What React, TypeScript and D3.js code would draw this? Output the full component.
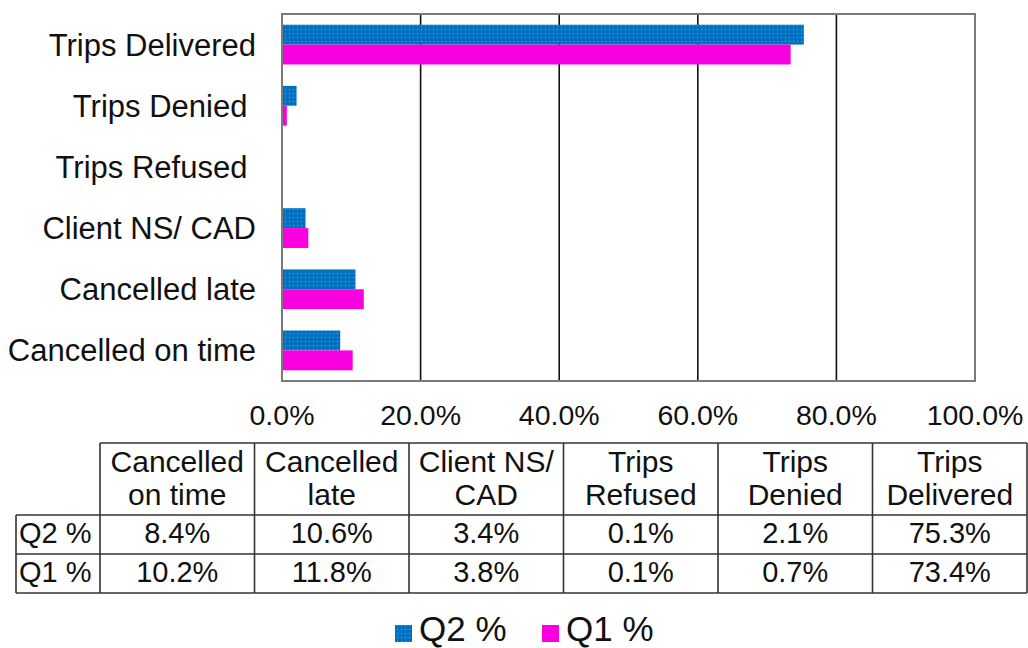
import React from "react";
import * as d3 from "d3";

// ---- data ----
const categories = [
  "Cancelled on time",
  "Cancelled late",
  "Client NS/ CAD",
  "Trips Refused ",
  "Trips Denied ",
  "Trips Delivered",
];
const tableHeaders = [
  ["Cancelled", "on time"],
  ["Cancelled", "late"],
  ["Client NS/", "CAD"],
  ["Trips", "Refused"],
  ["Trips", "Denied"],
  ["Trips", "Delivered"],
];
const seriesNames = ["Q2 %", "Q1 %"];
const q2Values = [0.084, 0.106, 0.034, 0.001, 0.021, 0.753];
const q1Values = [0.102, 0.118, 0.038, 0.001, 0.007, 0.734];
const xTicks = [0, 0.2, 0.4, 0.6, 0.8, 1.0];

const BLUE = "#0070c0";
const MAGENTA = "#f800e0";
const FONT = "'Liberation Sans', Arial, sans-serif";

export default function App() {
  const W = 1028;
  const H = 648;
  const plot = { left: 282, right: 975, top: 14, bottom: 381 };

  const x = d3.scaleLinear().domain([0, 1]).range([plot.left, plot.right]);
  const y = d3
    .scaleBand<string>()
    .domain([...categories].reverse())
    .range([plot.top, plot.bottom])
    .paddingInner(0.35)
    .paddingOuter(0.175);
  const inner = d3
    .scaleBand<string>()
    .domain(seriesNames)
    .range([0, y.bandwidth()]);

  const values = [q2Values, q1Values];
  const colors = ["url(#dots)", MAGENTA];

  // table geometry
  const colX = d3
    .scaleLinear()
    .domain([0, categories.length])
    .range([100, 1027]);
  const rowLabelLeft = 16;
  const tTop = 443;
  const tHeadBottom = 515;
  const tRowMid = 554;
  const tBottom = 593;
  const fmt = d3.format(".1%");

  const line = "#333";

  return (
    <svg
      width={W}
      height={H}
      style={{ position: "absolute", left: 0, top: 0, background: "#fff" }}
      fontFamily={FONT}
    >
      <defs>
        <pattern id="dots" width="4" height="4" patternUnits="userSpaceOnUse">
          <rect width="4" height="4" fill={BLUE} />
          <rect x="1" y="1" width="1" height="1" fill="#5aa8e6" />
        </pattern>
      </defs>
      <rect width={W} height={H} fill="#fff" />

      {/* gridlines */}
      {xTicks.slice(1, -1).map((t) => (
        <line
          key={t}
          x1={x(t)}
          x2={x(t)}
          y1={plot.top}
          y2={plot.bottom}
          stroke="#111"
          strokeWidth={1.6}
        />
      ))}

      {/* bars */}
      {seriesNames.map((s, si) =>
        categories.map((c, ci) => (
          <rect
            key={s + c}
            x={x(0)}
            y={(y(c) as number) + (inner(s) as number)}
            width={x(values[si][ci]) - x(0)}
            height={inner.bandwidth()}
            fill={colors[si]}
          />
        ))
      )}

      {/* plot frame */}
      <rect
        x={plot.left}
        y={plot.top}
        width={plot.right - plot.left}
        height={plot.bottom - plot.top}
        fill="none"
        stroke="#7a7a7a"
        strokeWidth={2}
      />

      {/* category labels */}
      {categories.map((c) => (
        <text
          key={c}
          x={256}
          y={(y(c) as number) + y.bandwidth() / 2 + 11}
          textAnchor="end"
          fontSize={31}
          fill="#111"
          style={{ whiteSpace: "pre" }}
        >
          {c}
        </text>
      ))}

      {/* x tick labels */}
      {xTicks.map((t) => (
        <text
          key={t}
          x={x(t)}
          y={425}
          textAnchor="middle"
          fontSize={28.5}
          fill="#111"
        >
          {fmt(t)}
        </text>
      ))}

      {/* table lines */}
      <g stroke={line} strokeWidth={1.6}>
        <line x1={colX(0)} x2={colX(6)} y1={tTop} y2={tTop} />
        <line x1={rowLabelLeft} x2={colX(6)} y1={tHeadBottom} y2={tHeadBottom} />
        <line x1={rowLabelLeft} x2={colX(6)} y1={tRowMid} y2={tRowMid} />
        <line x1={rowLabelLeft} x2={colX(6)} y1={tBottom} y2={tBottom} />
        <line x1={rowLabelLeft} x2={rowLabelLeft} y1={tHeadBottom} y2={tBottom} />
        {d3.range(categories.length + 1).map((i) => (
          <line key={i} x1={colX(i)} x2={colX(i)} y1={tTop} y2={tBottom} />
        ))}
      </g>

      {/* table header */}
      {tableHeaders.map((h, i) => (
        <g key={i}>
          {h.map((ln, j) => (
            <text
              key={j}
              x={(colX(i) + colX(i + 1)) / 2}
              y={472 + j * 33}
              textAnchor="middle"
              fontSize={30}
              fill="#111"
            >
              {ln}
            </text>
          ))}
        </g>
      ))}

      {/* table rows */}
      {seriesNames.map((s, si) => (
        <g key={s}>
          <text x={19} y={543 + si * 39} fontSize={29} fill="#111" style={{ whiteSpace: "pre" }}>
            {s}
          </text>
          {values[si].map((v, ci) => (
            <text
              key={ci}
              x={(colX(ci) + colX(ci + 1)) / 2}
              y={543 + si * 39}
              textAnchor="middle"
              fontSize={29}
              fill="#111"
            >
              {fmt(v)}
            </text>
          ))}
        </g>
      ))}

      {/* legend */}
      {seriesNames.map((s, si) => {
        const lx = si === 0 ? 395 : 542;
        return (
          <g key={s}>
            <rect x={lx} y={625} width={17} height={17} fill={colors[si]} />
            <text x={lx + 24} y={641} fontSize={35} fill="#111" style={{ whiteSpace: "pre" }}>
              {s}
            </text>
          </g>
        );
      })}
    </svg>
  );
}
